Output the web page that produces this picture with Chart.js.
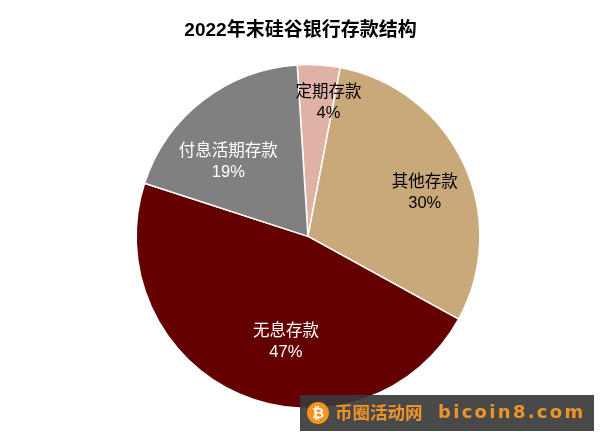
<!DOCTYPE html>
<html lang="zh">
<head>
<meta charset="utf-8">
<style>
html,body{margin:0;padding:0;background:#fff;}
#wrap{position:relative;width:600px;height:432px;overflow:hidden;}
#mark{position:absolute;left:300px;top:395px;width:294px;height:36px;background:rgba(58,58,58,.92);color:#EE9428;font-family:"Noto Sans CJK SC",sans-serif;font-weight:700;white-space:nowrap;}
#coin{position:absolute;left:7px;top:7px;width:22px;height:22px;border-radius:50%;background:#F7931A;color:#fff;font:700 15px/22px "DejaVu Sans",sans-serif;text-align:center;}
#cn{position:absolute;left:35px;top:4px;font-size:17.5px;line-height:26px;}
#en{position:absolute;left:138px;top:4px;font:700 18px/26px "DejaVu Sans",sans-serif;letter-spacing:2.3px;}
</style>
</head>
<body>
<div id="wrap">
<canvas id="c" width="600" height="432"></canvas>
<div id="mark"><span id="coin">₿</span><span id="cn">币圈活动网</span><span id="en">bicoin8.com</span></div>
</div>
<script src="https://cdn.jsdelivr.net/npm/chart.js@4"></script>
<script>
const titleText = '2022年末硅谷银行存款结构';
const categories = ['定期存款', '其他存款', '无息存款', '付息活期存款'];
const shares = [4, 30, 47, 19];
const sliceColors = ['#E0B2A5', '#C9A97A', '#630000', '#808080'];
const labelColors = ['#000000', '#000000', '#FFFFFF', '#FFFFFF'];
const labelOffsets = [[15, -48], [39, -7], [12, 26], [-27, -7]];
const fontFamily = '"Liberation Sans","Noto Sans CJK SC",sans-serif';

const sliceLabels = {
  id: 'sliceLabels',
  afterLayout(chart) {
    chart.titleBlock.left -= 15;
  },
  afterDatasetsDraw(chart) {
    const ctx = chart.ctx;
    const arcs = chart.getDatasetMeta(0).data;
    ctx.save();
    ctx.textAlign = 'center';
    ctx.textBaseline = 'middle';
    ctx.font = '16.5px ' + fontFamily;
    arcs.forEach((arc, i) => {
      const p = arc.tooltipPosition();
      const x = p.x + labelOffsets[i][0];
      const y = p.y + labelOffsets[i][1];
      ctx.fillStyle = labelColors[i];
      ctx.fillText(categories[i], x, y - 10);
      ctx.fillText(shares[i] + '%', x, y + 11);
    });
    ctx.restore();
  }
};

new Chart(document.getElementById('c'), {
  type: 'pie',
  data: {
    labels: categories,
    datasets: [{
      data: shares,
      backgroundColor: sliceColors,
      borderColor: '#FFFFFF',
      borderWidth: 1.5
    }]
  },
  options: {
    responsive: false,
    animation: false,
    rotation: -3.6,
    layout: { padding: { left: 135, right: 119, top: 0, bottom: 23 } },
    plugins: {
      legend: { display: false },
      tooltip: { enabled: false },
      title: {
        display: true,
        text: titleText,
        color: '#000000',
        font: { family: fontFamily, size: 19, weight: 'bold' },
        padding: { top: 19, bottom: 22 }
      }
    }
  },
  plugins: [sliceLabels]
});
</script>
</body>
</html>
